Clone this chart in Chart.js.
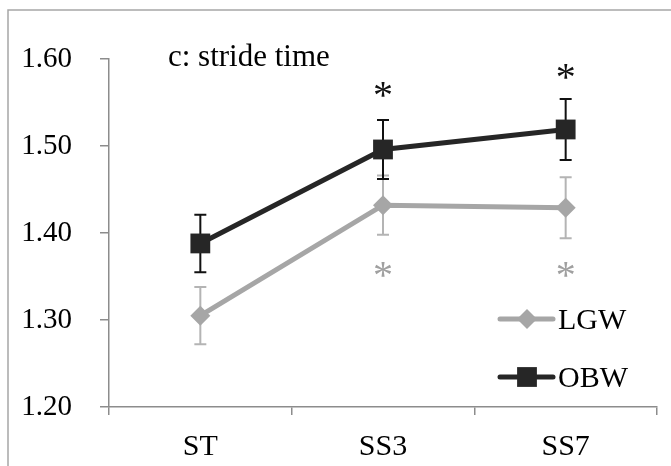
<!DOCTYPE html>
<html>
<head>
<meta charset="utf-8">
<script src="https://cdn.jsdelivr.net/npm/chart.js@4.4.1/dist/chart.umd.min.js"></script>
<style>
  html, body { margin: 0; padding: 0; background: #fff; }
  #wrap { width: 671px; height: 466px; }
</style>
</head>
<body>
<div id="wrap"><canvas id="strideChart" width="671" height="466"></canvas></div>
<script>
// data
const categories = ['ST', 'SS3', 'SS7'];
const lgwMean = [1.305, 1.432, 1.429];
const lgwErr = [0.033, 0.034, 0.035];
const obwMean = [1.388, 1.496, 1.519];
const obwErr = [0.033, 0.034, 0.035];
// where the significance stars sit (value units), null = no star
const obwStars = [null, 1.565, 1.586];
const lgwStars = [null, 1.358, 1.358];
const yTicks = [1.2, 1.3, 1.4, 1.5, 1.6];
const panelTitle = 'c: stride time';

const SERIF = "'Liberation Serif', 'Times New Roman', serif";
const AXIS_GREY = '#8c8c8c';
const LGW_COL = '#a6a6a6';
const OBW_COL = '#262626';

const series = [
  { label: 'LGW', mean: lgwMean, err: lgwErr, stars: lgwStars, color: LGW_COL, barColor: '#b4b4b4', starColor: '#a0a0a0', style: 'rectRot', radius: 10 },
  { label: 'OBW', mean: obwMean, err: obwErr, stars: obwStars, color: OBW_COL, barColor: '#111111', starColor: '#111111', style: 'rect', radius: 14 }
];

// error bars, stars, legend, frame and panel title
const extras = {
  id: 'extras',
  beforeDraw(chart) {
    const ctx = chart.ctx;
    ctx.save();
    ctx.fillStyle = '#fff';
    ctx.fillRect(0, 0, chart.width, chart.height);
    ctx.strokeStyle = '#a6a6a6';
    ctx.lineWidth = 1.5;
    ctx.beginPath();
    ctx.moveTo(8, chart.height);
    ctx.lineTo(8, 10);
    ctx.lineTo(chart.width, 10);
    ctx.stroke();
    ctx.restore();
  },
  beforeDatasetsDraw(chart) {
    const ctx = chart.ctx;
    const y = chart.scales.y;
    ctx.save();
    series.forEach((s, i) => {
      const meta = chart.getDatasetMeta(i);
      ctx.strokeStyle = s.barColor;
      ctx.lineWidth = 2;
      meta.data.forEach((pt, j) => {
        const top = y.getPixelForValue(s.mean[j] + s.err[j]);
        const bot = y.getPixelForValue(s.mean[j] - s.err[j]);
        ctx.beginPath();
        ctx.moveTo(pt.x, top); ctx.lineTo(pt.x, bot);
        ctx.moveTo(pt.x - 6, top); ctx.lineTo(pt.x + 6, top);
        ctx.moveTo(pt.x - 6, bot); ctx.lineTo(pt.x + 6, bot);
        ctx.stroke();
      });
    });
    ctx.restore();
  },
  afterDraw(chart) {
    const ctx = chart.ctx;
    const y = chart.scales.y;
    ctx.save();

    // title inside the plot
    ctx.font = '31px ' + SERIF;
    ctx.fillStyle = '#000';
    ctx.textAlign = 'left';
    ctx.textBaseline = 'alphabetic';
    ctx.fillText(panelTitle, 168, 66);

    // asterisks, centred on their value
    ctx.font = '40px ' + SERIF;
    ctx.textAlign = 'center';
    const m = ctx.measureText('*');
    const shift = (m.actualBoundingBoxAscent - m.actualBoundingBoxDescent) / 2;
    series.forEach((s, i) => {
      const meta = chart.getDatasetMeta(i);
      ctx.fillStyle = s.starColor;
      s.stars.forEach((v, j) => {
        if (v == null) return;
        ctx.fillText('*', meta.data[j].x, y.getPixelForValue(v) + shift);
      });
    });

    // legend: line with marker, then label
    const rows = [319, 377];
    ctx.font = '30px ' + SERIF;
    ctx.textAlign = 'left';
    const cm = ctx.measureText('LGW');
    const capShift = cm.actualBoundingBoxAscent / 2;
    series.forEach((s, i) => {
      const ly = rows[i];
      ctx.strokeStyle = s.color;
      ctx.lineWidth = 5;
      ctx.lineCap = 'round';
      ctx.beginPath();
      ctx.moveTo(500, ly); ctx.lineTo(553, ly);
      ctx.stroke();
      ctx.fillStyle = s.color;
      Chart.helpers.drawPoint(ctx, { pointStyle: s.style, radius: s.radius, borderWidth: 0, rotation: 0 }, 527, ly);
      ctx.fillStyle = '#000';
      ctx.fillText(s.label, 558, ly + capShift);
    });
    ctx.restore();
  }
};

new Chart(document.getElementById('strideChart'), {
  type: 'line',
  data: {
    labels: categories,
    datasets: series.map(s => ({
      label: s.label,
      data: s.mean,
      borderColor: s.color,
      backgroundColor: s.color,
      borderWidth: 5,
      pointStyle: s.style,
      pointRadius: s.radius,
      pointHoverRadius: s.radius,
      pointBorderWidth: 0,
      tension: 0
    }))
  },
  options: {
    responsive: false,
    devicePixelRatio: 1,
    animation: false,
    events: [],
    layout: { padding: { left: 0, top: 59, right: 7, bottom: 0 } },
    plugins: {
      legend: { display: false },
      tooltip: { enabled: false }
    },
    scales: {
      x: {
        offset: true,
        afterFit: (s) => { s.height = 59; },
        grid: { offset: true, drawOnChartArea: false, drawTicks: true, tickLength: 8, color: AXIS_GREY, lineWidth: 1.5 },
        border: { display: true, color: AXIS_GREY, width: 1.5 },
        ticks: { color: '#000', padding: 14, font: { family: SERIF, size: 30 }, maxRotation: 0 }
      },
      y: {
        min: 1.2,
        max: 1.6,
        afterFit: (s) => { s.width = 109; },
        afterBuildTicks: (s) => { s.ticks = yTicks.map(v => ({ value: v })); },
        grid: { drawOnChartArea: false, drawTicks: true, tickLength: 9, color: AXIS_GREY, lineWidth: 1.5 },
        border: { display: true, color: AXIS_GREY, width: 1.5 },
        ticks: {
          color: '#000',
          padding: 28,
          font: { family: SERIF, size: 29 },
          callback: (v) => Number(v).toFixed(2)
        }
      }
    }
  },
  plugins: [extras]
});
</script>
</body>
</html>
